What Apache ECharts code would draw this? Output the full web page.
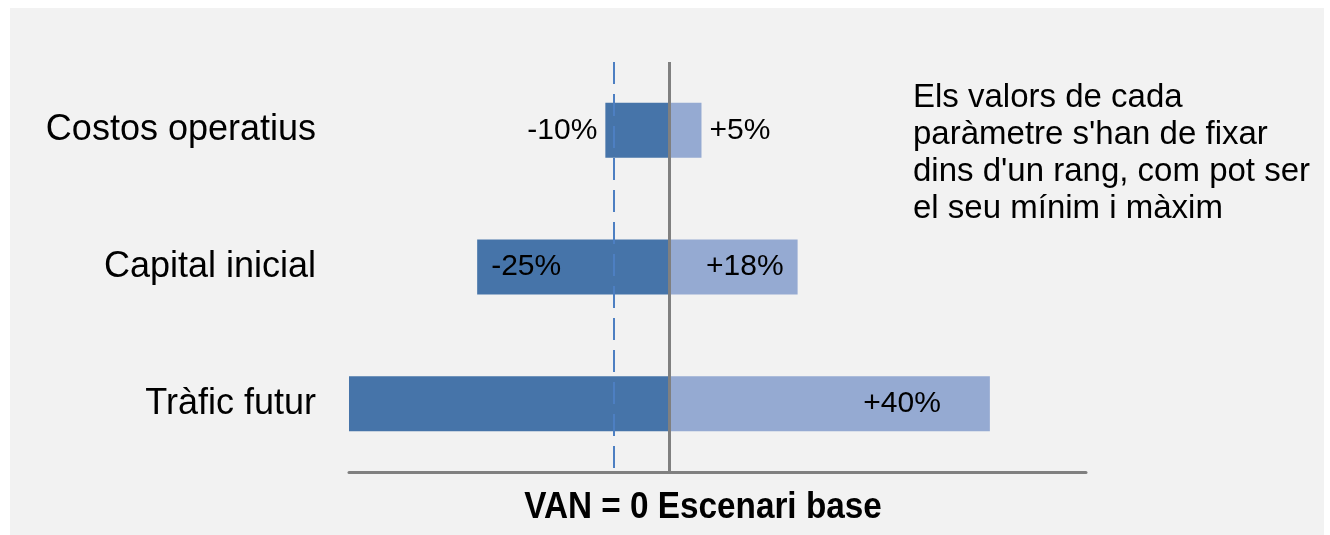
<!DOCTYPE html>
<html>
<head>
<meta charset="utf-8">
<script src="https://cdn.jsdelivr.net/npm/echarts@6/dist/echarts.min.js"></script>
<style>
  html, body { margin: 0; padding: 0; background: #ffffff; }
  #panel { position: absolute; left: 10px; top: 8px; width: 1314px; height: 527px; background: #f2f2f2; }
  #main { position: absolute; left: 0; top: 0; width: 1330px; height: 535px; }
</style>
</head>
<body>
<div id="panel"></div>
<div id="main"></div>
<script>
// parameters (top to bottom)
const categories = ['Costos operatius', 'Capital inicial', 'Tràfic futur'];
// bar extents as drawn, base scenario at 0
const lowValues = [-8, -24, -40];
const highValues = [4, 16, 40];
const lowLabels = ['-10%', '-25%', ''];
const highLabels = ['+5%', '+18%', '+40%'];
const breakEven = -6.9; // VAN = 0
const noteLines = [
  'Els valors de cada',
  "paràmetre s'han de fixar",
  "dins d'un rang, com pot ser",
  'el seu mínim i màxim'
];
const axisTitle = 'VAN = 0 Escenari base';

const FONT = 'Liberation Sans, Arial, sans-serif';

// short bars get the label outside
function lowLabel(i) {
  const inside = Math.abs(lowValues[i]) > 12;
  return {
    show: lowLabels[i] !== '',
    formatter: lowLabels[i],
    position: inside ? 'insideLeft' : 'left',
    distance: inside ? 14 : 8,
    fontSize: 30,
    fontFamily: FONT,
    color: '#000'
  };
}

function highLabel(i) {
  const inside = highValues[i] > 12;
  return {
    show: true,
    formatter: highLabels[i],
    position: inside ? 'insideRight' : 'right',
    distance: !inside ? 8 : (highValues[i] > 30 ? 49 : 14),
    fontSize: 30,
    fontFamily: FONT,
    color: '#000'
  };
}

const chart = echarts.init(document.getElementById('main'));

chart.setOption({
  animation: false,
  grid: {
    left: 349,
    top: 62,
    width: 737,
    height: 410
  },
  xAxis: {
    type: 'value',
    min: -40,
    max: 52,
    axisLine: {
      show: true,
      lineStyle: { color: '#808080', width: 3 }
    },
    axisTick: { show: false },
    axisLabel: { show: false },
    splitLine: { show: false }
  },
  yAxis: {
    type: 'category',
    data: categories,
    inverse: true,
    axisLine: { show: false },
    axisTick: { show: false },
    axisLabel: {
      fontSize: 36,
      fontFamily: FONT,
      color: '#000',
      margin: 33
    }
  },
  series: [
    {
      name: 'min',
      type: 'bar',
      barWidth: 55,
      barGap: '-100%',
      itemStyle: { color: '#4674a9' },
      data: lowValues.map((v, i) => ({ value: v, label: lowLabel(i) })),
      markLine: {
        silent: true,
        symbol: 'none',
        label: { show: false },
        z: 10,
        data: [
          { xAxis: 0, lineStyle: { color: '#808080', width: 3, type: 'solid' } },
          { xAxis: breakEven, lineStyle: { color: '#4d7fc2', width: 2, type: [22, 10] } }
        ]
      }
    },
    {
      name: 'max',
      type: 'bar',
      barWidth: 55,
      itemStyle: { color: '#95aad2' },
      data: highValues.map((v, i) => ({ value: v, label: highLabel(i) }))
    }
  ],
  graphic: [
    {
      type: 'text',
      left: 913,
      top: 79,
      style: {
        text: noteLines.join('\n'),
        font: '33px ' + FONT,
        lineHeight: 37,
        fill: '#000'
      }
    },
    {
      type: 'text',
      x: 703,
      y: 508,
      scaleX: 0.9,
      style: {
        text: axisTitle,
        font: 'bold 37px ' + FONT,
        align: 'center',
        verticalAlign: 'middle',
        fill: '#000'
      }
    }
  ]
});
</script>
</body>
</html>
